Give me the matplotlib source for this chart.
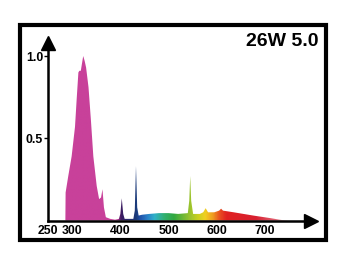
import numpy as np
import matplotlib
matplotlib.use("Agg")
import matplotlib.pyplot as plt
from matplotlib.colors import LinearSegmentedColormap
from matplotlib.patches import Rectangle

# spectre lampe 26W 5.0
longueur_onde = [286, 286.5, 292, 299, 306, 309.5, 313, 315, 318, 323, 326, 329, 334, 339, 344,
                 351, 356, 360, 363, 366, 370, 379, 389, 397, 400, 403, 406, 409, 427, 430,
                 432.5, 435, 438, 445, 460, 480, 500, 520, 540, 543, 545, 547, 551, 565, 572,
                 577, 582, 595, 605, 609, 613, 635, 676, 710, 735, 750]
intensite = [0, 0.17, 0.27, 0.39, 0.57, 0.74, 0.90, 0.91, 0.91, 1.0, 0.97, 0.93, 0.81, 0.61, 0.39,
             0.21, 0.13, 0.14, 0.19, 0.08, 0.02, 0.01, 0.005, 0.01, 0.04, 0.135, 0.04, 0.01, 0.01, 0.06,
             0.33, 0.08, 0.03, 0.035, 0.04, 0.045, 0.045, 0.04, 0.045, 0.12, 0.27, 0.12, 0.04, 0.04, 0.05,
             0.075, 0.05, 0.05, 0.06, 0.072, 0.06, 0.05, 0.03, 0.015, 0.003, 0]

xticks = [250, 300, 400, 500, 600, 700]
yticks = [0.5, 1.0]
titre = "26W 5.0"

# couleurs du degrade selon la longueur d'onde
couleurs_nm = [250, 392, 400, 415, 432, 440, 455, 470, 490, 510, 540, 560, 575, 590, 605, 620, 680, 720, 760, 800]
couleurs = ["#c8419a", "#c8419a", "#3c1a60", "#2a2a70", "#1a3a78", "#2050a8", "#2a80c8", "#30b0c8",
            "#30b070", "#30a840", "#90c030", "#c8d020", "#f0d020", "#f0a020", "#e85020", "#e02020",
            "#d82030", "#e06070", "#f8d0d0", "#ffffff"]

xmin, xmax = 250, 795.6
ymin, ymax = 0, 1.079

plt.rcParams['font.family'] = ['Liberation Sans', 'DejaVu Sans']
fig = plt.figure(figsize=(3.51, 2.65), dpi=100)
ax = fig.add_axes([0.1368, 0.1679, 0.7493, 0.6698])

pos = [(v - xmin) / (800 - xmin) for v in couleurs_nm]
cmap = LinearSegmentedColormap.from_list("spectre", list(zip(pos, couleurs)))
grad = np.linspace(0, (xmax - xmin) / (800 - xmin), 600).reshape(1, -1)
im = ax.imshow(grad, cmap=cmap, vmin=0, vmax=1, extent=[xmin, xmax, ymin, ymax],
               aspect='auto', origin='lower', interpolation='bilinear')
poly = ax.fill(longueur_onde, intensite, facecolor='none', edgecolor='none')[0]
im.set_clip_path(poly)

ax.set_xlim(xmin, xmax)
ax.set_ylim(ymin, ymax)
for s in ['top', 'right']:
    ax.spines[s].set_visible(False)
for s in ['left', 'bottom']:
    ax.spines[s].set_linewidth(1.8)
    ax.spines[s].set_color('black')

ax.set_xticks(xticks)
ax.set_xticklabels([str(v) for v in xticks], fontsize=8.8, fontweight='bold')
ax.set_yticks(yticks)
ax.set_yticklabels(["0.5", "1.0"], fontsize=8.8, fontweight='bold')
ax.tick_params(axis='x', length=0, pad=3.5)
ax.tick_params(axis='y', length=3, width=1, pad=0.5)

ax.plot(1, 0, ">k", markersize=10, transform=ax.transAxes, clip_on=False)
ax.plot(0, 1, "^k", markersize=10, transform=ax.transAxes, clip_on=False)

fig.text(318 / 351, 1 - 42 / 265, titre, ha='right', va='center', fontsize=14, fontweight='bold')

fig.patches.append(Rectangle((20 / 351, 25 / 265), 306 / 351, 215 / 265, transform=fig.transFigure,
                             fill=False, edgecolor='black', linewidth=3))

fig.savefig("out.png", dpi=100)
